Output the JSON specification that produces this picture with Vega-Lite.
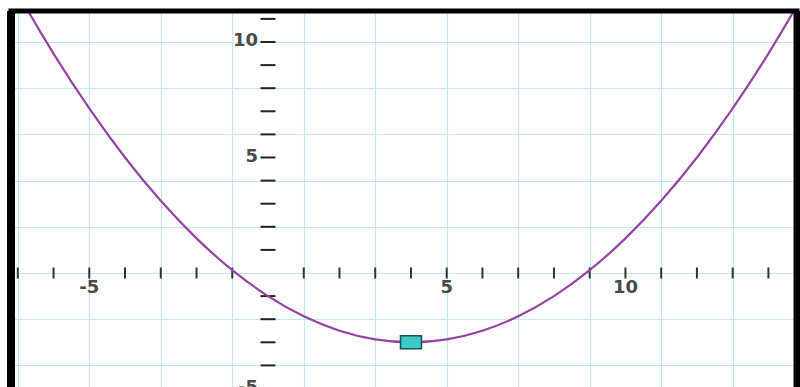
{
  "$schema": "https://vega.github.io/schema/vega-lite/v6.json",
  "width": 786,
  "height": 376,
  "autosize": {"type": "none"},
  "padding": {"left": 11, "top": 11, "right": 3, "bottom": 0},
  "background": "white",
  "config": {
    "view": {"stroke": null},
    "axis": {"gridColor": "#c2eaec", "gridWidth": 1.2, "gridOpacity": 1}
  },
  "datasets": {
    "curve": [
      {"x": -8, "y": 15}, {"x": -7, "y": 12.125}, {"x": -6, "y": 9.5}, {"x": -5, "y": 7.125},
      {"x": -4, "y": 5}, {"x": -3, "y": 3.125}, {"x": -2, "y": 1.5}, {"x": -1, "y": 0.125},
      {"x": 0, "y": -1}, {"x": 1, "y": -1.875}, {"x": 2, "y": -2.5}, {"x": 3, "y": -2.875},
      {"x": 4, "y": -3}, {"x": 5, "y": -2.875}, {"x": 6, "y": -2.5}, {"x": 7, "y": -1.875},
      {"x": 8, "y": -1}, {"x": 9, "y": 0.125}, {"x": 10, "y": 1.5}, {"x": 11, "y": 3.125},
      {"x": 12, "y": 5}, {"x": 13, "y": 7.125}, {"x": 14, "y": 9.5}, {"x": 15, "y": 12.125},
      {"x": 16, "y": 15}
    ],
    "xticks": [
      {"v": -7}, {"v": -6}, {"v": -5}, {"v": -4}, {"v": -3}, {"v": -2}, {"v": -1}, {"v": 1},
      {"v": 2}, {"v": 3}, {"v": 4}, {"v": 5}, {"v": 6}, {"v": 7}, {"v": 8}, {"v": 9},
      {"v": 10}, {"v": 11}, {"v": 12}, {"v": 13}, {"v": 14}
    ],
    "yticks": [
      {"v": -5}, {"v": -4}, {"v": -3}, {"v": -2}, {"v": -1}, {"v": 1}, {"v": 2}, {"v": 3},
      {"v": 4}, {"v": 5}, {"v": 6}, {"v": 7}, {"v": 8}, {"v": 9}, {"v": 10}, {"v": 11}
    ],
    "xlabels": [{"v": -5, "t": "-5"}, {"v": 5, "t": "5"}, {"v": 10, "t": "10"}],
    "ylabels": [{"v": 10, "t": "10"}, {"v": 5, "t": "5"}, {"v": -5, "t": "-5"}],
    "vertex": [{"x": 4, "y": -3}],
    "frame": [{"xl": -7.19, "xr": 14.8, "yt": 11.342}]
  },
  "layer": [
    {
      "data": {"name": "curve"},
      "mark": {"type": "line", "opacity": 0},
      "encoding": {
        "x": {
          "field": "x", "type": "quantitative",
          "scale": {"domain": [-7.19, 14.8], "nice": false, "zero": false},
          "axis": {
            "values": [-7, -6, -5, -4, -3, -2, -1, 0, 1, 2, 3, 4, 5, 6, 7, 8, 9, 10, 11, 12, 13, 14],
            "grid": true, "labels": false, "ticks": false, "domain": false, "title": null
          }
        },
        "y": {
          "field": "y", "type": "quantitative",
          "scale": {"domain": [-4.935, 11.342], "nice": false, "zero": false},
          "axis": {
            "values": [-4, -3, -2, -1, 0, 1, 2, 3, 4, 5, 6, 7, 8, 9, 10, 11],
            "grid": true, "labels": false, "ticks": false, "domain": false, "title": null
          }
        }
      }
    },
    {
      "mark": {"type": "rule", "color": "#888888", "strokeWidth": 1.5},
      "encoding": {"x": {"datum": 4, "type": "quantitative"}}
    },
    {
      "mark": {"type": "rule", "color": "#555555", "strokeWidth": 1, "strokeDash": [2, 2]},
      "encoding": {"y": {"datum": -3, "type": "quantitative"}}
    },
    {
      "mark": {"type": "rule", "color": "#4a4a4a", "strokeWidth": 2},
      "encoding": {"y": {"datum": 0, "type": "quantitative"}}
    },
    {
      "mark": {"type": "rule", "color": "#2e2e2e", "strokeWidth": 2},
      "encoding": {"x": {"datum": 0, "type": "quantitative"}}
    },
    {
      "data": {"name": "xticks"},
      "mark": {"type": "tick", "orient": "vertical", "color": "#333333", "size": 11, "thickness": 2, "opacity": 1},
      "encoding": {
        "x": {"field": "v", "type": "quantitative"},
        "y": {"datum": 0, "type": "quantitative"}
      }
    },
    {
      "data": {"name": "yticks"},
      "mark": {"type": "tick", "orient": "horizontal", "color": "#222222", "size": 15, "thickness": 2, "opacity": 1},
      "encoding": {
        "y": {"field": "v", "type": "quantitative"},
        "x": {"datum": 0, "type": "quantitative"}
      }
    },
    {
      "data": {"name": "xlabels"},
      "mark": {"type": "text", "font": "DejaVu Sans", "fontWeight": "bold", "fontSize": 18, "color": "#4a4a4a", "align": "center", "baseline": "middle", "dy": 15},
      "encoding": {
        "x": {"field": "v", "type": "quantitative"},
        "y": {"datum": 0, "type": "quantitative"},
        "text": {"field": "t"}
      }
    },
    {
      "data": {"name": "ylabels"},
      "mark": {"type": "text", "font": "DejaVu Sans", "fontWeight": "bold", "fontSize": 18, "color": "#4a4a4a", "align": "right", "baseline": "middle", "dx": -10, "dy": -1},
      "encoding": {
        "y": {"field": "v", "type": "quantitative"},
        "x": {"datum": 0, "type": "quantitative"},
        "text": {"field": "t"}
      }
    },
    {
      "data": {"name": "curve"},
      "mark": {"type": "line", "color": "#9444a2", "strokeWidth": 2.2, "interpolate": "monotone", "clip": true},
      "encoding": {
        "x": {"field": "x", "type": "quantitative"},
        "y": {"field": "y", "type": "quantitative"}
      }
    },
    {
      "data": {"name": "vertex"},
      "mark": {"type": "point", "shape": "M-1,-0.62H1V0.62H-1Z", "size": 441, "filled": true, "fill": "#3cc9c9", "stroke": "#1a4f55", "strokeWidth": 1.5, "opacity": 1},
      "encoding": {
        "x": {"field": "x", "type": "quantitative"},
        "y": {"field": "y", "type": "quantitative"}
      }
    },
    {
      "data": {"name": "frame"},
      "mark": {"type": "rule", "color": "#000000", "strokeWidth": 8},
      "encoding": {"x": {"field": "xl", "type": "quantitative"}}
    },
    {
      "data": {"name": "frame"},
      "mark": {"type": "rule", "color": "#000000", "strokeWidth": 7},
      "encoding": {"x": {"field": "xr", "type": "quantitative"}}
    },
    {
      "data": {"name": "frame"},
      "mark": {"type": "rule", "color": "#000000", "strokeWidth": 5, "strokeCap": "square"},
      "encoding": {"y": {"field": "yt", "type": "quantitative"}}
    }
  ]
}
